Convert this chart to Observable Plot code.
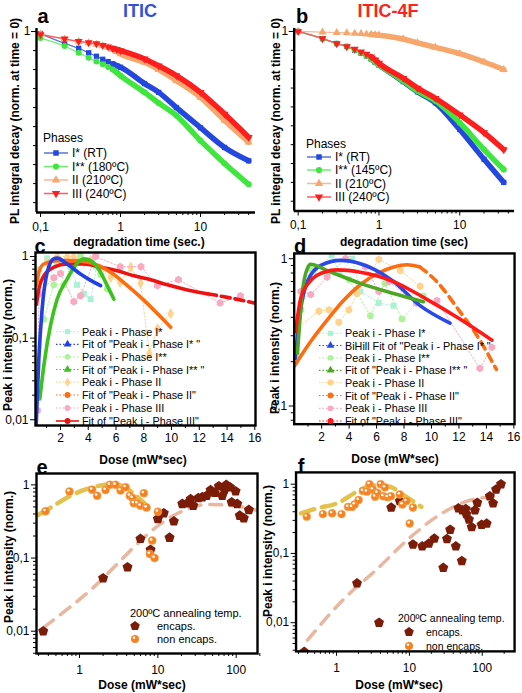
<!DOCTYPE html>
<html><head><meta charset="utf-8">
<script src="https://cdn.jsdelivr.net/npm/d3@7"></script>
<script src="https://cdn.jsdelivr.net/npm/@observablehq/plot@0.6"></script>
<style>
body{margin:0;background:#fff;}
#root{position:relative;width:522px;height:693px;overflow:hidden;background:#fff;font-family:"Liberation Sans",Arial,Helvetica,sans-serif;}
.p{position:absolute;}
</style></head><body><div id="root"></div><script>
const FONT = '"Liberation Sans", Arial, Helvetica, sans-serif';
const fmt = d => String(d).replace(".", ",");

// ---------- Panel a (ITIC) ----------
const timeA = [0.1,0.2,0.3,0.4,0.5,0.6,0.7,0.8,0.9,1,2,3,5,10,20,40];
const aI1 = [0.994,0.969,0.956,0.944,0.935,0.927,0.921,0.915,0.910,0.906,0.863,0.840,0.800,0.747,0.695,0.660];
const aI2 = [0.983,0.962,0.944,0.931,0.921,0.914,0.907,0.900,0.892,0.884,0.840,0.812,0.779,0.713,0.653,0.598];
const aII = [0.994,0.980,0.974,0.970,0.966,0.962,0.958,0.953,0.947,0.941,0.919,0.900,0.871,0.827,0.766,0.709];
const aIII = [0.992,0.981,0.974,0.971,0.968,0.964,0.960,0.956,0.953,0.950,0.928,0.910,0.884,0.840,0.783,0.722];
const phasesA = ["I* (RT)","I** (180ºC)","II (210ºC)","III (240ºC)"];

// ---------- Panel b (ITIC-4F) ----------
const timeB = [0.1,0.2,0.3,0.4,0.5,0.6,0.7,0.8,0.9,1,2,3,5,10,20,35];
const bI1 = [1.0,0.981,0.968,0.960,0.950,0.942,0.935,0.927,0.918,0.911,0.867,0.840,0.811,0.740,0.661,0.600];
const bI2 = [1.0,0.981,0.968,0.960,0.950,0.942,0.935,0.927,0.919,0.912,0.869,0.842,0.816,0.758,0.687,0.634];
const bII = [1.0,0.998,0.997,0.996,0.995,0.994,0.993,0.992,0.991,0.990,0.980,0.970,0.958,0.941,0.919,0.899];
const bIII = [1.0,0.981,0.968,0.960,0.953,0.946,0.940,0.933,0.925,0.916,0.876,0.850,0.823,0.779,0.732,0.687];
const phasesB = ["I* (RT)","I** (145ºC)","II (210ºC)","III (240ºC)"];

// ---------- Panel c ----------
const cPI1x = [0.44,1.04,1.76,2.48,3.2,3.68,4.17,4.6];
const cPI1y = [0.70,0.95,0.85,0.90,0.45,0.35,0.30,0.75];
const cPI2x = [0.8,1.52,2.24,2.72,3.44,4.17,4.89,5.37];
const cPI2y = [0.17,0.45,0.45,0.75,1.0,0.90,0.60,0.40];
const cPIIx = [1.04,1.76,2.48,2.96,3.68,4.17,4.89,5.61,6.3,7.06,7.77,8.4,8.98,9.94];
const cPIIy = [0.85,1.0,1.0,1.0,0.85,0.90,0.70,0.55,0.48,0.74,0.47,0.065,0.13,0.20];
const cPIIIx = [0.34,0.44,1.52,2.0,2.96,3.44,4.53,6.3,7.8,8.98,10.5,13.5,14.97];
const cPIIIy = [0.013,0.35,0.55,0.62,0.28,0.33,1.0,0.75,0.75,0.44,0.52,0.27,0.33];
const cFI1x = [0.24,0.44,0.68,1.04,1.52,1.76,2.48,3.44,4.17,4.89];
const cFI1y = [0.008,0.056,0.229,0.64,0.94,0.955,0.81,0.61,0.51,0.44];
const cFI2x = [0.51,0.8,1.28,1.76,2.48,3.08,3.68,4.17,4.89,5.37,5.85];
const cFI2y = [0.018,0.046,0.143,0.30,0.53,0.78,0.94,0.89,0.64,0.44,0.30];
const cFIIx = [0.27,0.44,0.8,1.76,2.96,4.17,5.61,6.82,8.02,8.98,9.94];
const cFIIy = [0.44,0.64,0.81,0.89,0.89,0.84,0.64,0.44,0.29,0.20,0.136];
const cFIIIx = [0.27,0.44,0.8,1.52,2.48,3.68,4.89,6.09,7.29,8.5,9.7,11.15,12.59];
const cFIIIy = [0.26,0.40,0.58,0.74,0.81,0.81,0.74,0.67,0.58,0.52,0.45,0.39,0.35];
const cFIIIdx = [12.59,14.27,15.96];
const cFIIIdy = [0.35,0.31,0.27];
const legendC = ["Peak i - Phase I*","Fit of \"Peak i - Phase I* \"","Peak i - Phase I**","Fit of \"Peak i - Phase I** \"","Peak i - Phase II","Fit of \"Peak i - Phase II\"","Peak i - Phase III","Fit of \"Peak i - Phase III\""];

// ---------- Panel d ----------
const dPI1x = [0.1,0.6,1.4,2.72,3.3,4.22,4.83,6.16,7.24];
const dPI1y = [0.22,0.55,0.82,1.05,0.80,1.0,0.60,0.50,0.48];
const dPI2x = [0.24,0.5,1.2,2.41,4.0,5.55,6.6,7.85,9.41];
const dPI2y = [0.22,0.45,0.85,0.80,0.72,0.41,0.68,0.39,0.56];
const dPIIx = [0.24,1.8,2.53,3.25,3.98,4.58,6.16,7.73,9.17];
const dPIIy = [0.34,0.44,0.45,0.37,0.45,0.58,0.99,0.83,0.65];
const dPIIIx = [0.48,1.2,2.4,3.74,5.19,6.16,6.9,8.9,10.4,13.52,14.4];
const dPIIIy = [0.60,0.57,0.75,1.0,0.88,0.60,0.70,0.50,0.52,0.18,0.25];
const dFI1x = [0.07,0.48,0.96,1.93,3.38,4.83,7.24,9.17,11.35];
const dFI1y = [0.21,0.46,0.70,0.90,0.974,0.925,0.70,0.48,0.365];
const dFI2x = [0.24,0.60,0.96,1.2,2.41,4.83,7.24,9.41];
const dFI2y = [0.229,0.60,0.86,0.916,0.83,0.68,0.58,0.51];
const dFIIx = [0.0,1.2,2.41,3.62,4.83,6.03,7.24,8.2,9.17];
const dFIIy = [0.186,0.274,0.384,0.524,0.668,0.79,0.878,0.91,0.878];
const dFIIdx = [9.17,10.38,12.07,13.28,14.73];
const dFIIdy = [0.878,0.70,0.437,0.304,0.177];
const dFIIIx = [0.1,0.48,1.2,2.17,3.14,4.83,7.24,9.66,12.07,14.41];
const dFIIIy = [0.32,0.54,0.71,0.81,0.84,0.81,0.70,0.53,0.39,0.28];
const legendD = ["Peak i - Phase I*","BiHill Fit of \"Peak i - Phase I* \"","Peak i - Phase I**","Fit of \"Peak i - Phase I** \"","Peak i - Phase II","Fit of \"Peak i - Phase II\"","Peak i - Phase III","Fit of \"Peak i - Phase III\""];

// ---------- Panel e ----------
const eEncX = [0.344,2.0,4.1,6.0,8.07,10,11.9,14.1,16.0,20.5,23.7,26.2,28.3,32.8,36.9,41.9,47.1,53,60.1,66.4,71.1,74.7,83.2,87.4,98.2,103,111,125,145];
const eEncY = [0.01,0.053,0.075,0.183,0.13,0.343,0.41,0.19,0.318,0.55,0.56,0.64,0.52,0.66,0.68,0.71,0.85,0.78,0.96,0.71,0.86,1.0,0.93,0.58,0.82,0.55,0.38,0.35,0.455];
const eNonX = [0.368,0.745,1.45,1.68,2.15,2.44,2.88,3.34,3.87,4.39,4.75,4.94,5.46,6.01,6.62,7.17,7.9,8.47,9.08,10];
const eNonY = [0.436,0.81,0.86,0.71,0.85,1.0,1.0,0.84,0.93,0.71,0.66,0.56,0.56,0.52,0.77,0.49,0.114,0.173,0.10,0.43];
const eFitNonX = [0.30,0.47,0.77,1.25,1.85,2.74,4.06,5.72,7.68];
const eFitNonY = [0.39,0.52,0.71,0.88,0.98,1.03,0.88,0.66,0.49];
const eFitEncX = [0.35,0.70,1.52,3.03,6.01,10.8,21.5,42.8,93.5,186];
const eFitEncY = [0.0113,0.020,0.040,0.083,0.173,0.293,0.446,0.54,0.52,0.446];

// ---------- Panel f ----------
const fNonX = [0.39,0.65,0.87,1.17,1.44,1.63,1.77,2.01,2.30,2.61,2.83,3.15,3.38,3.63,4.04,4.38,4.62,5.02,5.57,7.38,8.03,9.1,10.1,11.2];
const fNonY = [0.34,0.37,0.38,0.37,0.47,0.47,0.51,0.59,0.80,0.78,1.0,0.84,0.66,0.75,1.0,0.67,0.90,0.65,0.67,0.71,0.51,0.57,0.27,0.46];
const fEncX = [0.36,1.91,3.83,5.63,7.38,11.2,15,18.5,22,29.2,32.8,36.3,43.4,47.1,52.4,53.4,59.3,60.5,65.8,71.6,79.4,85.5,98,115,127,141,155,181];
const fEncY = [0.0038,0.037,0.01,0.46,0.57,0.135,0.127,0.139,0.164,0.062,0.162,0.22,0.127,0.45,0.078,0.42,0.44,0.37,0.31,0.24,0.42,0.54,0.26,0.27,0.67,0.53,0.84,1.0];
const fFitEncX = [0.40,1.26,3.57,10.1,25.8,59.3,159];
const fFitEncY = [0.0056,0.022,0.059,0.168,0.36,0.56,0.67];
const fFitNonX = [0.325,0.55,1.02,1.91,3.21,5.4,8.2,12.4,14.6];
const fFitNonY = [0.38,0.45,0.53,0.78,0.97,0.92,0.70,0.53,0.47];
const legendEF = ["encaps.","non encaps."];

// ---------- tick lists ----------
const ticksA_x = [0.1,1,10];
const minorA_x = [0.2,0.3,0.4,0.5,0.6,0.7,0.8,0.9,2,3,4,5,6,7,8,9,20,30,40];
const ticksA_y = [1];
const minorA_y = [0.55,0.6,0.65,0.7,0.75,0.8,0.85,0.9,0.95];
const ticksC_x = [2,4,6,8,10,12,14,16];
const minorC_x = [1,3,5,7,9,11,13,15];
const ticksC_y = [0.01,0.1,1];
const minorC_y = [0.02,0.03,0.04,0.05,0.06,0.07,0.08,0.09,0.2,0.3,0.4,0.5,0.6,0.7,0.8,0.9];
const ticksD_y = [0.1,1];
const minorD_y = [0.08,0.09,0.2,0.3,0.4,0.5,0.6,0.7,0.8,0.9];
const ticksE_x = [1,10,100];
const minorE_x = [0.3,0.4,0.5,0.6,0.7,0.8,0.9,2,3,4,5,6,7,8,9,20,30,40,50,60,70,80,90,200];
const minorE_y = [0.005,0.006,0.007,0.008,0.009,0.02,0.03,0.04,0.05,0.06,0.07,0.08,0.09,0.2,0.3,0.4,0.5,0.6,0.7,0.8,0.9];
const minorF_y = [0.004,0.005,0.006,0.007,0.008,0.009,0.02,0.03,0.04,0.05,0.06,0.07,0.08,0.09,0.2,0.3,0.4,0.5,0.6,0.7,0.8,0.9];

// ---------- helpers ----------
const rec = (xs, ys) => xs.map((x, i) => ({x, y: ys[i]}));
const root = document.getElementById("root");
const pentagon = {draw(ctx, size) {
  const r = Math.sqrt(size / 2.378);
  for (let i = 0; i < 5; i++) { const a = -Math.PI/2 + i*2*Math.PI/5; const px = r*Math.cos(a), py = r*Math.sin(a); if (i) ctx.lineTo(px, py); else ctx.moveTo(px, py); }
  ctx.closePath();
}};
const triDown = {draw(ctx, size) {
  const r = Math.sqrt(size / 1.299);
  ctx.moveTo(-r*0.866, -r*0.5); ctx.lineTo(r*0.866, -r*0.5); ctx.lineTo(0, r); ctx.closePath();
}};

function panel(o) {
  const ml = 40, mr = 8, mt = 8, mb = 30;
  const W = o.R - o.L + ml + mr, H = o.B - o.T + mt + mb;
  const frame = o.box
    ? [Plot.frame({stroke: "#000", strokeWidth: 2.4})]
    : [Plot.ruleX([o.x.domain[0]], {stroke: "#000", strokeWidth: 2.4}), Plot.ruleY([o.y.domain[0]], {stroke: "#000", strokeWidth: 2.4})];
  const axes = [
    Plot.axisX({ticks: o.xMinor, tickSize: 3, tickFormat: () => "", label: null}),
    Plot.axisX({ticks: o.xMajor, tickSize: 5, tickPadding: o.xPad, tickFormat: o.xFmt || fmt, label: null, fontSize: 12}),
    Plot.axisY({ticks: o.yMinor, tickSize: 3, tickFormat: () => "", label: null}),
    Plot.axisY({ticks: o.yMajor, tickSize: 5, tickPadding: o.yPad, tickFormat: o.yFmt || fmt, label: null, fontSize: 12})
  ];
  const p = Plot.plot({
    width: W, height: H, marginLeft: ml, marginRight: mr, marginTop: mt, marginBottom: mb,
    x: o.x, y: o.y,
    style: {fontFamily: FONT, fontSize: "12px", color: "#000", background: "transparent", overflow: "visible"},
    marks: [...o.marks, ...frame, ...axes]
  });
  const d = document.createElement("div");
  d.className = "p"; d.style.left = (o.L - ml) + "px"; d.style.top = (o.T - mt) + "px";
  d.appendChild(p); root.appendChild(d);
}

function decaySeries(xs, ys, color, lineColor, symbol) {
  const data = rec(xs, ys);
  return [
    Plot.line(data, {x: "x", y: "y", stroke: lineColor, strokeWidth: 1.3, curve: "monotone-x"}),
    Plot.line(data.filter(d => d.x >= 0.8), {x: "x", y: "y", stroke: color, strokeWidth: 5.5, curve: "monotone-x"}),
    Plot.dot(data, {x: "x", y: "y", fill: color, symbol, r: 3})
  ];
}

// colours
const cBlue = "#2447e0", cGreen = "#3ee63e", cOrange = "#f7a66c", cRed = "#ff1e1e";

// ---- a
panel({L: 36, T: 28, R: 255, B: 212,
  x: {type: "log", domain: [0.0891, 48.7]}, y: {domain: [0.524, 1.008]},
  xMajor: ticksA_x, xMinor: minorA_x, yMajor: ticksA_y, yMinor: minorA_y, xPad: 5, yPad: 1,
  marks: [
    ...decaySeries(timeA, aI1, cBlue, "#5a76c8", "square"),
    ...decaySeries(timeA, aI2, cGreen, "#70ee70", "circle"),
    ...decaySeries(timeA, aII, cOrange, "#f6b995", "triangle"),
    ...decaySeries(timeA, aIII, cRed, "#ff5a5a", triDown)
  ]});

// ---- b
panel({L: 294, T: 28, R: 516, B: 212,
  x: {type: "log", domain: [0.0893, 47.7]}, y: {domain: [0.524, 1.008]},
  xMajor: ticksA_x, xMinor: minorA_x, yMajor: ticksA_y, yMinor: minorA_y, xPad: 5, yPad: 1,
  marks: [
    ...decaySeries(timeB, bI1, cBlue, "#5a76c8", "square"),
    ...decaySeries(timeB, bI2, cGreen, "#70ee70", "circle"),
    ...decaySeries(timeB, bII, cOrange, "#f6b995", "triangle"),
    ...decaySeries(timeB, bIII, cRed, "#ff5a5a", triDown)
  ]});

function scatterSeries(xs, ys, color, symbol) {
  const data = rec(xs, ys);
  return [
    Plot.line(data, {x: "x", y: "y", stroke: color, strokeWidth: 1, strokeDasharray: "1.5,2", clip: true}),
    Plot.dot(data, {x: "x", y: "y", fill: color, symbol, r: 3.4, clip: true})
  ];
}
function fitLine(xs, ys, color, dash) {
  return Plot.line(rec(xs, ys), {x: "x", y: "y", stroke: color, strokeWidth: 3.6, curve: "monotone-x", strokeDasharray: dash, clip: true});
}
const sMint = "#a9f2d4", sLGreen = "#aef29c", sLOrange = "#ffd28e", sPink = "#f9a9c2";
const fBlue = "#1f3fe8", fGreenC = "#3cc21e", fGreenD = "#4da624", fOrange = "#ff6c10", fRed = "#ee1111";

// ---- c
panel({L: 35, T: 252, R: 255, B: 425, box: true,
  x: {domain: [0.2, 16.05]}, y: {type: "log", domain: [0.0085, 1.12]},
  xMajor: ticksC_x, xMinor: minorC_x, yMajor: ticksC_y, yMinor: minorC_y, xPad: 3, yPad: 2,
  marks: [
    ...scatterSeries(cPI1x, cPI1y, sMint, "square"),
    ...scatterSeries(cPI2x, cPI2y, sLGreen, "circle"),
    ...scatterSeries(cPIIx, cPIIy, sLOrange, "diamond"),
    ...scatterSeries(cPIIIx, cPIIIy, sPink, "hexagon"),
    fitLine(cFIIIx, cFIIIy, fRed), fitLine(cFIIIdx, cFIIIdy, fRed, "9,5"),
    fitLine(cFIIx, cFIIy, fOrange),
    fitLine(cFI2x, cFI2y, fGreenC),
    fitLine(cFI1x, cFI1y, fBlue)
  ]});

// ---- d
panel({L: 294, T: 253, R: 516, B: 425, box: true,
  x: {domain: [0, 16.05]}, y: {type: "log", domain: [0.0753, 1.086]},
  xMajor: ticksC_x, xMinor: minorC_x, yMajor: ticksD_y, yMinor: minorD_y, xPad: 3, yPad: 2,
  marks: [
    ...scatterSeries(dPI1x, dPI1y, sMint, "square"),
    ...scatterSeries(dPI2x, dPI2y, sLGreen, "circle"),
    ...scatterSeries(dPIIx, dPIIy, sLOrange, "hexagon"),
    ...scatterSeries(dPIIIx, dPIIIy, sPink, "hexagon"),
    fitLine(dFIIx, dFIIy, fOrange), fitLine(dFIIdx, dFIIdy, fOrange, "8,6"),
    fitLine(dFI1x, dFI1y, "#2a4ae8"),
    fitLine(dFI2x, dFI2y, fGreenD),
    fitLine(dFIIIx, dFIIIy, "#ff1a1a")
  ]});

const cEnc = "#7a1c08", cNon = "#f5821f", cFitNon = "#e2c24c", cFitEnc = "#e9b7a0";
function doseMarks(encX, encY, nonX, nonY, fNx, fNy, fEx, fEy) {
  return [
    Plot.line(rec(fEx, fEy), {x: "x", y: "y", stroke: cFitEnc, strokeWidth: 3.5, strokeDasharray: "12,9", curve: "monotone-x", clip: true}),
    Plot.line(rec(fNx, fNy), {x: "x", y: "y", stroke: cFitNon, strokeWidth: 4.5, strokeDasharray: "14,8", curve: "monotone-x", clip: true}),
    Plot.dot(rec(encX, encY), {x: "x", y: "y", fill: cEnc, symbol: pentagon, r: 4.6, clip: true}),
    Plot.dot(rec(nonX, nonY), {x: "x", y: "y", fill: cNon, stroke: "#f7a860", strokeWidth: 0.6, r: 4, clip: true}),
    Plot.dot(rec(nonX, nonY), {x: "x", y: "y", fill: "#fff", r: 1.3, dx: -1, dy: -1.2, clip: true})
  ];
}
// ---- e
panel({L: 36, T: 473, R: 257, B: 653, box: true,
  x: {type: "log", domain: [0.2825, 187]}, y: {type: "log", domain: [0.00496, 1.43]},
  xMajor: ticksE_x, xMinor: minorE_x, yMajor: ticksC_y, yMinor: minorE_y, xPad: 7, yPad: 2, xFmt: d => String(d),
  marks: doseMarks(eEncX, eEncY, eNonX, eNonY, eFitNonX, eFitNonY, eFitEncX, eFitEncY)});
// ---- f
panel({L: 296, T: 472, R: 517, B: 653, box: true,
  x: {type: "log", domain: [0.278, 278]}, y: {type: "log", domain: [0.00385, 1.48]},
  xMajor: ticksE_x, xMinor: minorE_x, yMajor: ticksC_y, yMinor: minorF_y, xPad: 7, yPad: 2, xFmt: d => String(d),
  marks: doseMarks(fEncX, fEncY, fNonX, fNonY, fFitNonX, fFitNonY, fFitEncX, fFitEncY)});

// ---------- overlay: titles, labels, legends ----------
const svg = d3.select(root).append("svg").attr("width", 522).attr("height", 693)
  .style("position", "absolute").style("left", "0px").style("top", "0px")
  .style("font-family", FONT).style("pointer-events", "none");
function txt(s, x, y, o = {}) {
  const t = svg.append("text").attr("x", x).attr("y", y).text(s)
    .attr("font-size", o.size || 12).attr("font-weight", o.bold ? "bold" : "normal")
    .attr("fill", o.color || "#000").attr("text-anchor", o.anchor || "start")
    .attr("dominant-baseline", "central");
  if (o.rotate) t.attr("transform", `rotate(-90 ${x} ${y})`);
  return t;
}
txt("ITIC", 140, 11, {size: 18, bold: true, color: "#2f52db", anchor: "middle"});
txt("ITIC-4F", 388, 11, {size: 18, bold: true, color: "#ff2020", anchor: "middle"});
[["a", 43, 16], ["b", 302, 16], ["c", 40, 246], ["d", 300, 246], ["e", 42, 467], ["f", 301, 466]]
  .forEach(([s, x, y]) => txt(s, x, y, {size: 20, bold: true, anchor: "middle"}));
txt("degradation time (sec.)", 139, 241.5, {size: 12, bold: true, anchor: "middle"});
txt("degradation time (sec)", 404, 241.5, {size: 12, bold: true, anchor: "middle"});
txt("Dose (mW*sec)", 143, 460, {size: 12, bold: true, anchor: "middle"});
txt("Dose (mW*sec)", 395, 459, {size: 12, bold: true, anchor: "middle"});
txt("Dose (mW*sec)", 142, 685, {size: 12, bold: true, anchor: "middle"});
txt("Dose (mW*sec)", 399, 685, {size: 12, bold: true, anchor: "middle"});
txt("PL integral decay (norm. at time = 0)", 15, 121, {size: 12, bold: true, anchor: "middle", rotate: true});
txt("PL integral decay (norm. at time = 0)", 276, 121, {size: 12, bold: true, anchor: "middle", rotate: true});
txt("Peak i intensity (norm.)", 8, 345, {size: 12, bold: true, anchor: "middle", rotate: true});
txt("Peak i intensity (norm.)", 275, 348, {size: 12, bold: true, anchor: "middle", rotate: true});
txt("Peak i intensity (norm.)", 9, 557, {size: 12, bold: true, anchor: "middle", rotate: true});
txt("Peak i intensity (norm.)", 268, 551, {size: 12, bold: true, anchor: "middle", rotate: true});

function sym(type, x, y, size, fill) {
  svg.append("path").attr("d", d3.symbol(type, size)()).attr("transform", `translate(${x},${y})`).attr("fill", fill);
}
// legends a & b
const legAB = [[cBlue, "#5a76c8", d3.symbolSquare], [cGreen, "#70ee70", d3.symbolCircle], [cOrange, "#f6b995", d3.symbolTriangle], [cRed, "#ff5a5a", triDown]];
function legendPhases(x0, y0, ys, labels) {
  txt("Phases", x0, y0, {size: 12});
  labels.forEach((s, i) => {
    const y = ys[i];
    svg.append("line").attr("x1", x0 + 1).attr("x2", x0 + 25).attr("y1", y).attr("y2", y).attr("stroke", legAB[i][1]).attr("stroke-width", 1.5);
    sym(legAB[i][2], x0 + 13, y, 30, legAB[i][0]);
    txt(s, x0 + 29, y, {size: 12});
  });
}
legendPhases(43, 138, [153, 166.5, 180, 193.5], phasesA);
legendPhases(306, 144, [157, 170, 183.5, 197], phasesB);

// legends c & d
function legendFits(x0, ys, labels, styles) {
  labels.forEach((s, i) => {
    const y = ys[i], st = styles[i];
    svg.append("line").attr("x1", x0).attr("x2", x0 + 23).attr("y1", y).attr("y2", y)
      .attr("stroke", st[0]).attr("stroke-width", st[3] || 1.2).attr("stroke-dasharray", st[2] || null);
    sym(st[1], x0 + 11.5, y, 26, st[0]);
    txt(s, x0 + 26, y, {size: 10.8});
  });
}
const stylesC = [[sMint, d3.symbolSquare, "1.5,2"], [fBlue, d3.symbolTriangle, "1.5,2"], [sLGreen, d3.symbolCircle, "1.5,2"], [fGreenC, d3.symbolTriangle, "1.5,2"],
  [sLOrange, d3.symbolDiamond, "1.5,2"], [fOrange, d3.symbolCircle, "1.5,2"], [sPink, d3.symbolCircle, "1.5,2"], [fRed, d3.symbolCircle, null, 1.6]];
const stylesD = [[sMint, d3.symbolSquare, "1.5,2"], ["#2a4ae8", d3.symbolTriangle, "1.5,2"], [sLGreen, d3.symbolCircle, "1.5,2"], [fGreenD, d3.symbolTriangle, "1.5,2"],
  [sLOrange, d3.symbolCircle, "1.5,2"], [fOrange, d3.symbolCircle, "1.5,2"], [sPink, d3.symbolCircle, "1.5,2"], ["#ff1a1a", d3.symbolCircle, "1.5,2"]];
legendFits(56, [331.7, 344.3, 356.8, 369.5, 382.2, 395, 408, 421], legendC, stylesC);
legendFits(319, [333.3, 345.5, 357.8, 370.3, 382.5, 395.5, 408.3, 421], legendD, stylesD);

// legends e & f
function legendDose(x0, y0, mx, tx, ys, fs) {
  txt("200ºC annealing temp.", x0, y0, {size: fs});
  svg.append("path").attr("d", d3.symbol(pentagon, 60)()).attr("transform", `translate(${mx},${ys[0]})`).attr("fill", cEnc);
  svg.append("circle").attr("cx", mx).attr("cy", ys[1]).attr("r", 4).attr("fill", cNon);
  svg.append("circle").attr("cx", mx - 1).attr("cy", ys[1] - 1.2).attr("r", 1.3).attr("fill", "#fff");
  txt(legendEF[0], tx, ys[0], {size: fs});
  txt(legendEF[1], tx, ys[1], {size: fs});
}
legendDose(130, 613, 135, 157, [626, 639], 11);
legendDose(398, 618, 409, 426, [632, 646], 10.5);
</script></body></html>
